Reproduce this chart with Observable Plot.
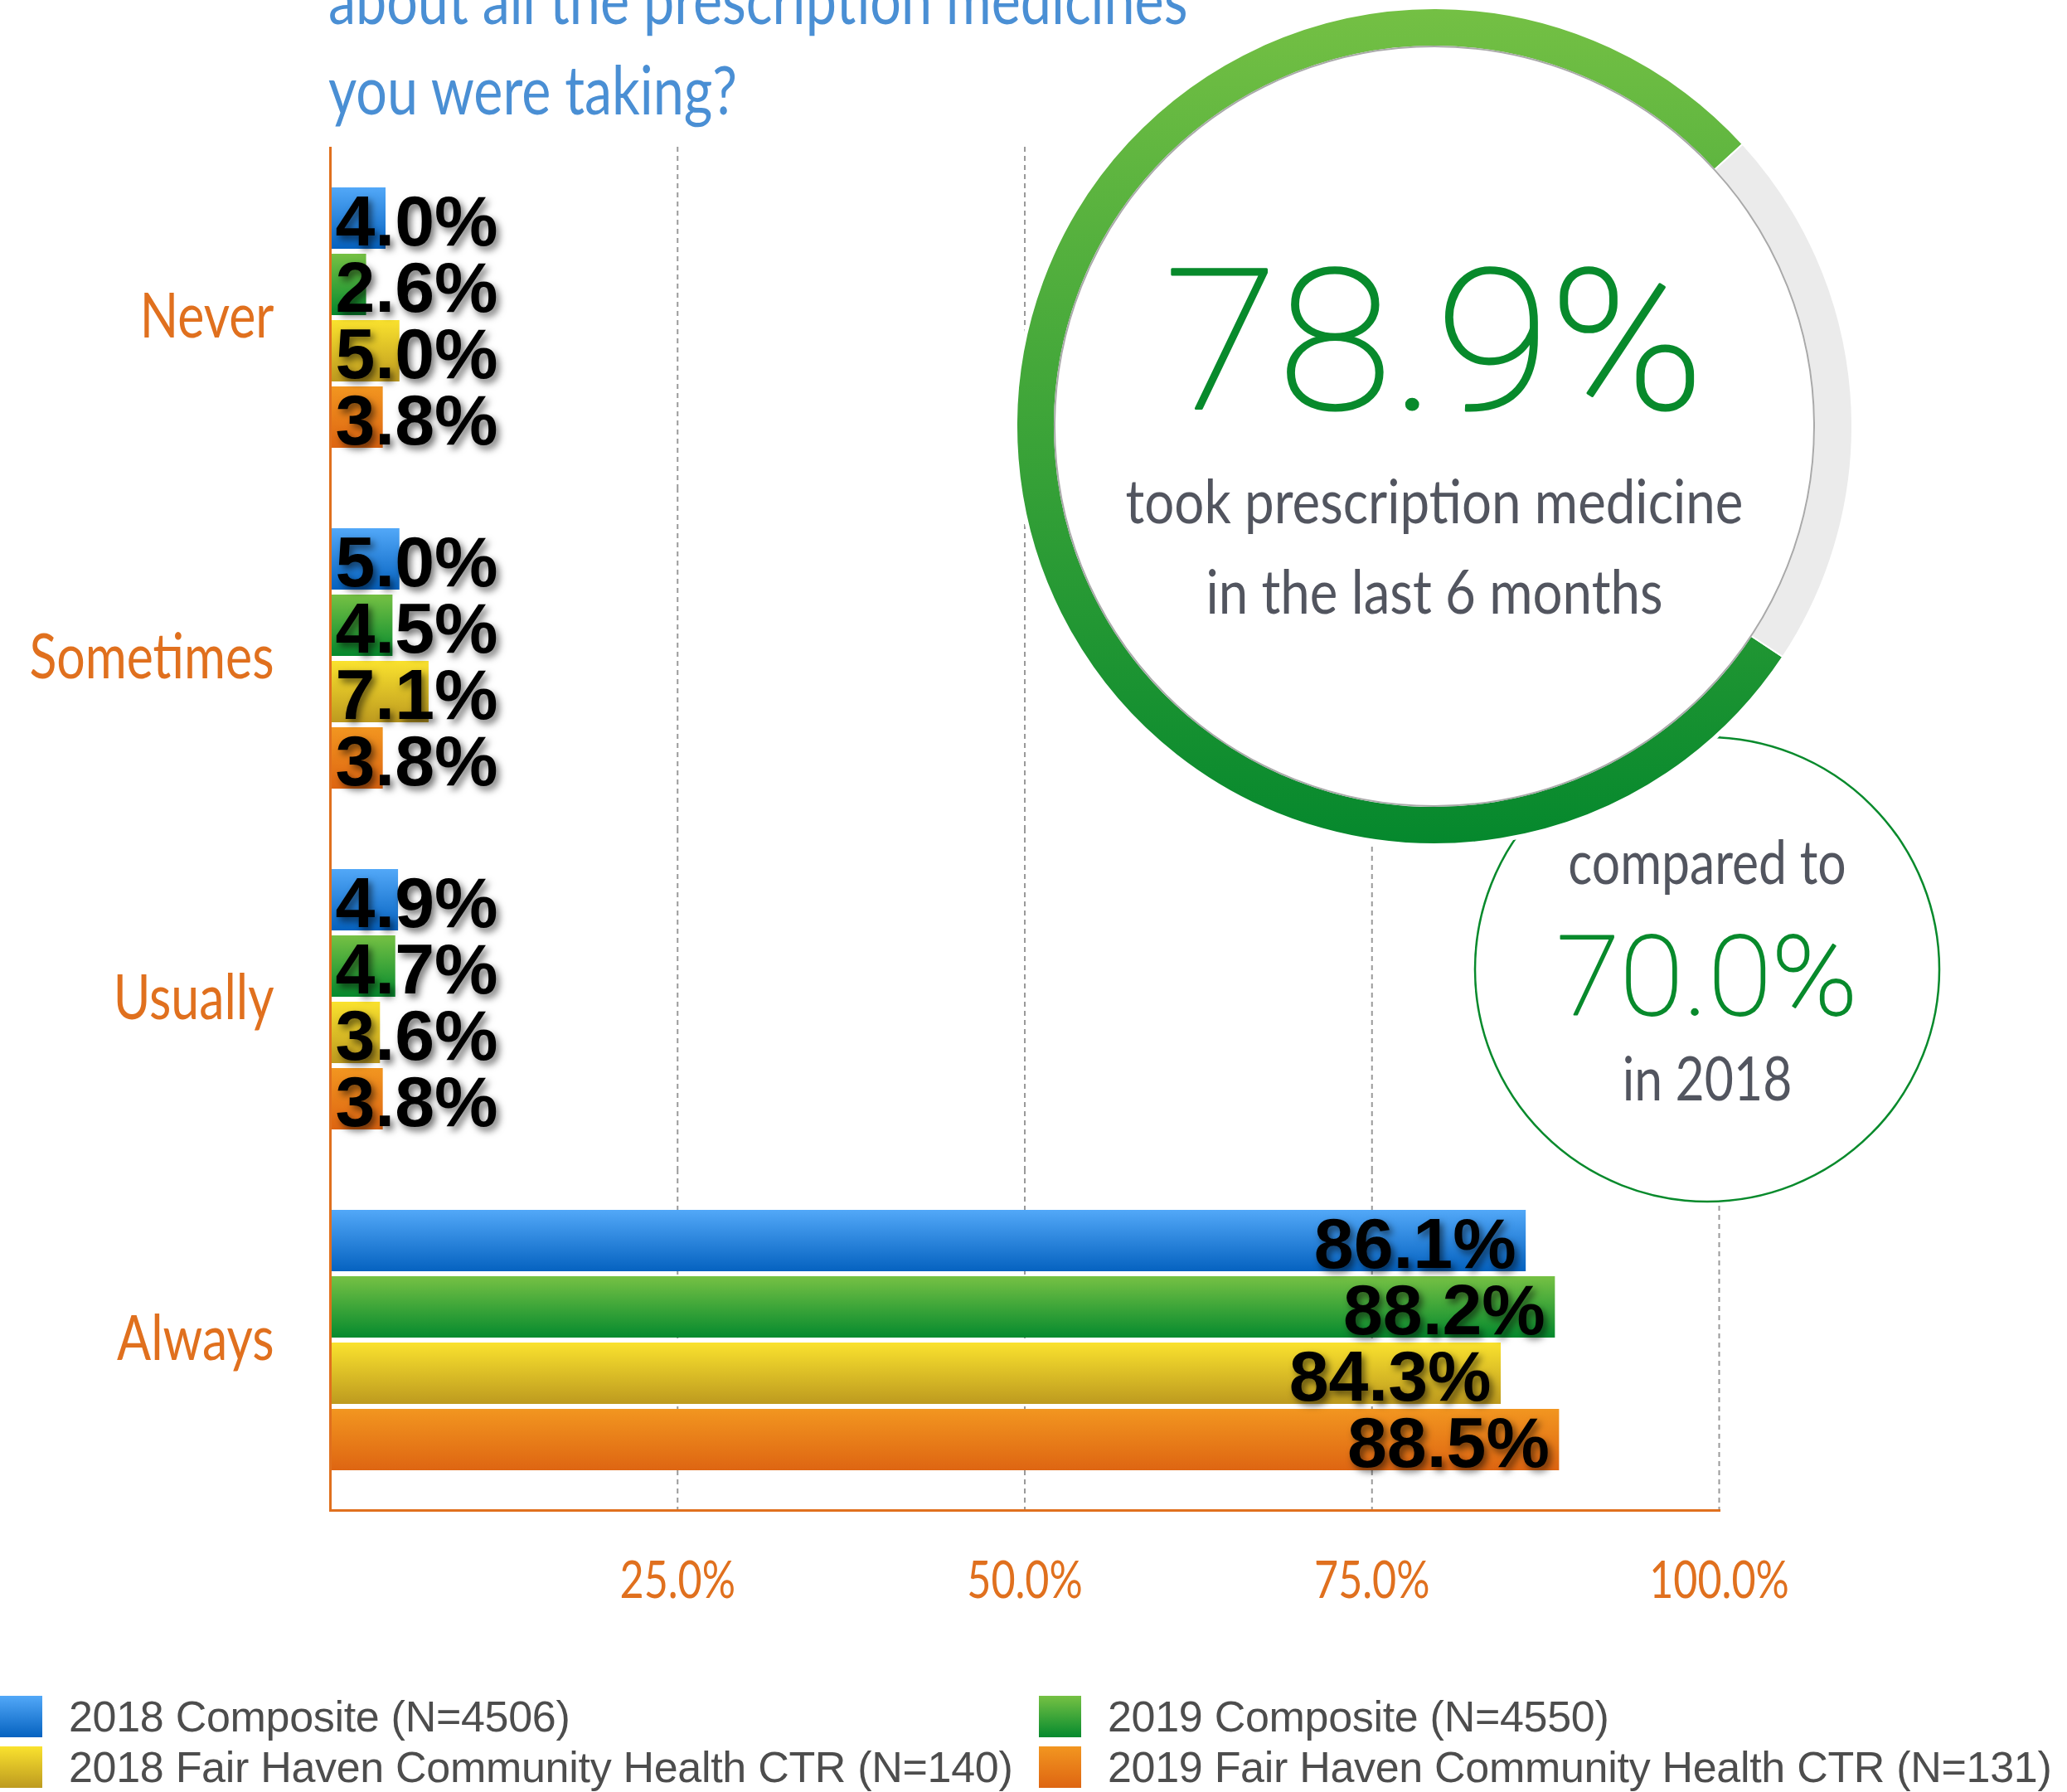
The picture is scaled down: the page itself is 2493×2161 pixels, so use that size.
<!DOCTYPE html>
<html>
<head>
<meta charset="utf-8">
<script src="https://cdn.jsdelivr.net/npm/d3@7"></script>
<script src="https://cdn.jsdelivr.net/npm/@observablehq/plot@0.6"></script>
<style>
  html, body { margin: 0; padding: 0; background: #fff; }
  body { width: 2493px; height: 2161px; overflow: hidden; position: relative; }
  #chart { position: absolute; left: 0; top: 0; }
  #legend { position: absolute; left: 0; top: 0; font-family: "Liberation Sans", Arial, sans-serif; font-size: 52px; letter-spacing: -0.3px; color: #4d4d4d; }
  .item { position: absolute; height: 50px; display: flex; align-items: center; white-space: nowrap; }
  .sw { width: 51px; height: 50px; margin-right: 32px; flex: none; }
</style>
</head>
<body>
<div id="chart"></div>
<div id="legend"></div>
<script>
// ---------- data ----------
const categories = ["Never", "Sometimes", "Usually", "Always"];
const series = [
  "2018 Composite (N=4506)",
  "2019 Composite (N=4550)",
  "2018 Fair Haven Community Health CTR (N=140)",
  "2019 Fair Haven Community Health CTR (N=131)"
];
const v2018Composite = [4.0, 5.0, 4.9, 86.1];
const v2019Composite = [2.6, 4.5, 4.7, 88.2];
const v2018FairHaven = [5.0, 7.1, 3.6, 84.3];
const v2019FairHaven = [3.8, 3.8, 3.8, 88.5];
const xTicks = [25, 50, 75, 100];
const donutValues = [78.9, 21.1];   // took prescription medicine / did not
const priorValue = 70.0;            // 2018
const titleLines = ["about all the prescription medicines", "you were taking?"];
const bigCaption = ["took prescription medicine", "in the last 6 months"];
const smallCaption = ["compared to", "in 2018"];

// ---------- styles ----------
const gradients = [
  ["gBlue",   "#52a8f8", "#0562c0"],
  ["gGreen",  "#76c144", "#058a2e"],
  ["gYellow", "#fae22e", "#bd9a1f"],
  ["gOrange", "#f29620", "#de6512"]
];
const orange = "#e0701e";
const green = "#088a2c";
const grayText = "#52555f";
const condensedFont = "Lato, 'Open Sans', sans-serif";
const thinFont = "Roboto, Lato, sans-serif";
const pct = d => d.toFixed(1) + "%";

const seriesValues = [v2018Composite, v2019Composite, v2018FairHaven, v2019FairHaven];
const data = series.flatMap((s, i) => categories.map((c, j) => ({series: s, category: c, value: seriesValues[i][j]})));

const plot = Plot.plot({
  width: 2493,
  height: 2030,
  marginTop: 176,
  marginBottom: 208,
  marginLeft: 398,
  marginRight: 420,
  style: {background: "transparent", overflow: "visible"},
  x: {domain: [0, 100]},
  y: {domain: series, paddingInner: 0.08, paddingOuter: 0.6, axis: null},
  fy: {domain: categories, padding: 0, axis: null},
  color: {domain: series, range: gradients.map(g => `url(#${g[0]})`)},
  marks: [
    Plot.ruleX(xTicks, {stroke: "#9a9a9a", strokeWidth: 2, strokeDasharray: "6,5"}),
    Plot.barX(data, {fy: "category", y: "series", x: "value", fill: "series"}),
    Plot.text(data.filter(d => d.value < 50), {
      fy: "category", y: "series", x: () => 0, text: d => pct(d.value),
      textAnchor: "start", dx: 6, dy: 5,
      fontSize: 86, fontWeight: "bold", fontFamily: "'Liberation Sans', Arial, sans-serif", fill: "black"
    }),
    Plot.text(data.filter(d => d.value >= 50), {
      fy: "category", y: "series", x: "value", text: d => pct(d.value),
      textAnchor: "end", dx: -12, dy: 5,
      fontSize: 86, fontWeight: "bold", fontFamily: "'Liberation Sans', Arial, sans-serif", fill: "black"
    }),
    Plot.ruleX([0], {stroke: orange, strokeWidth: 3}),
    Plot.frame({anchor: "bottom", facetAnchor: "bottom", stroke: orange, strokeWidth: 3}),
    Plot.text(categories, {
      fy: d => d, text: d => d, frameAnchor: "left", textAnchor: "end", dx: -68,
      fontSize: 76, fill: orange, fontFamily: condensedFont
    }),
    Plot.axisX(xTicks, {
      tickFormat: pct, tickSize: 0, tickPadding: 61, label: null,
      fontSize: 62, fill: orange, fontFamily: condensedFont
    })
  ]
});
document.getElementById("chart").appendChild(plot);

// ---------- post styling ----------
const svg = d3.select(plot);
const defs = svg.insert("defs", ":first-child");
for (const [id, c0, c1] of gradients) {
  const g = defs.append("linearGradient").attr("id", id).attr("x1", 0).attr("y1", 0).attr("x2", 0).attr("y2", 1);
  g.append("stop").attr("offset", "0%").attr("stop-color", c0);
  g.append("stop").attr("offset", "100%").attr("stop-color", c1);
}

function condense(selector, c) {
  plot.querySelectorAll(selector).forEach(g => g.querySelectorAll("text").forEach(t => {
    const x = +t.getAttribute("x") || 0, y = +t.getAttribute("y") || 0;
    const tr = t.getAttribute("transform") || "";
    t.setAttribute("transform", `${tr} translate(${x},${y}) scale(${c},1) translate(${-x},${-y})`);
  }));
}
condense('g[font-size="76"]', 0.80);
condense('g[font-size="62"]', 0.81);
plot.querySelectorAll('g[font-size="86"]').forEach(g => g.style.filter = "drop-shadow(4px 5px 4px rgba(0,0,0,0.55))");

function addText(parent, str, x, y, o) {
  const t = parent.append("text")
    .attr("transform", `translate(${x},${y}) scale(${o.c ?? 1},1)`)
    .attr("text-anchor", o.anchor ?? "middle")
    .attr("font-family", o.family ?? condensedFont)
    .attr("font-size", o.size)
    .attr("font-weight", o.weight ?? 400)
    .attr("fill", o.fill)
    .text(str);
  if (o.stroke) t.attr("stroke", o.fill).attr("stroke-width", o.stroke).attr("stroke-linejoin", "round");
  return t;
}

// title
const ann = svg.append("g");
addText(ann, titleLines[0], 396, 29, {size: 82, fill: "#4a8fd4", anchor: "start", c: 0.81});
addText(ann, titleLines[1], 396, 138, {size: 82, fill: "#4a8fd4", anchor: "start", c: 0.81});

// small circle (2018 comparison)
const small = {cx: 2059, cy: 1169, r: 280};
ann.append("circle").attr("cx", small.cx).attr("cy", small.cy).attr("r", small.r)
  .attr("fill", "#fff").attr("stroke", green).attr("stroke-width", 2.5);
addText(ann, smallCaption[0], small.cx, 1066, {size: 74, fill: grayText, c: 0.82});
addText(ann, pct(priorValue), small.cx, 1224, {size: 133, fill: green, family: thinFont, weight: 100, c: 1.05, stroke: 1.8});
addText(ann, smallCaption[1], small.cx, 1327, {size: 74, fill: grayText, c: 0.82});

// big donut
const big = {cx: 1730, cy: 514, r0: 458, r1: 504};
const rg = defs.append("linearGradient").attr("id", "gRing").attr("gradientUnits", "userSpaceOnUse")
  .attr("x1", 0).attr("x2", 0).attr("y1", -big.r1).attr("y2", big.r1);
rg.append("stop").attr("offset", "0%").attr("stop-color", "#74c044");
rg.append("stop").attr("offset", "100%").attr("stop-color", "#05882d");
const bg = ann.append("g").attr("transform", `translate(${big.cx},${big.cy})`);
bg.append("circle").attr("r", big.r1 + 4).attr("fill", "#fff");
const a0 = 123.5 * Math.PI / 180;
const slices = d3.pie().sort(null).startAngle(a0).endAngle(a0 + 2 * Math.PI)(donutValues);
const arc = d3.arc().innerRadius(big.r0).outerRadius(big.r1);
bg.selectAll("path").data(slices).join("path")
  .attr("d", arc)
  .attr("fill", (d, i) => i === 0 ? "url(#gRing)" : "#ebebeb")
  .attr("stroke", "#fff").attr("stroke-width", 2);
bg.append("circle").attr("r", big.r0).attr("fill", "#fff").attr("stroke", "#a9a9a9").attr("stroke-width", 2);
addText(ann, pct(donutValues[0]), big.cx, 493, {size: 236, fill: green, family: thinFont, weight: 100, c: 1.06, stroke: 3});
addText(ann, bigCaption[0], big.cx, 631, {size: 74, fill: grayText, c: 0.86});
addText(ann, bigCaption[1], big.cx, 740, {size: 74, fill: grayText, c: 0.86});

// ---------- legend ----------
const legend = document.getElementById("legend");
const legendPos = [[0, 2045], [1253, 2045], [0, 2106], [1253, 2106]];
series.forEach((s, i) => {
  const it = document.createElement("div");
  it.className = "item";
  it.style.left = legendPos[i][0] + "px";
  it.style.top = legendPos[i][1] + "px";
  const sw = document.createElement("div");
  sw.className = "sw";
  sw.style.background = `linear-gradient(${gradients[i][1]}, ${gradients[i][2]})`;
  const tx = document.createElement("span");
  tx.textContent = s;
  it.appendChild(sw); it.appendChild(tx);
  legend.appendChild(it);
});
</script>
</body>
</html>
